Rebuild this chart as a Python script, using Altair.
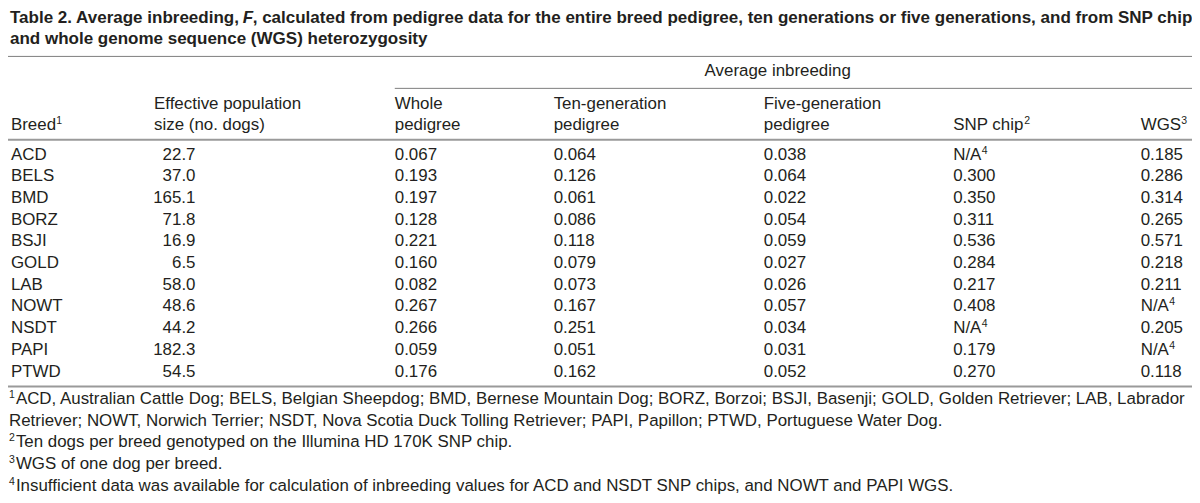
import altair as alt
import pandas as pd

# ---------------- data ----------------
breeds = ["ACD", "BELS", "BMD", "BORZ", "BSJI", "GOLD", "LAB", "NOWT", "NSDT", "PAPI", "PTWD"]
ne = [22.7, 37.0, 165.1, 71.8, 16.9, 6.5, 58.0, 48.6, 44.2, 182.3, 54.5]
whole = [0.067, 0.193, 0.197, 0.128, 0.221, 0.160, 0.082, 0.267, 0.266, 0.059, 0.176]
ten = [0.064, 0.126, 0.061, 0.086, 0.118, 0.079, 0.073, 0.167, 0.251, 0.051, 0.162]
five = [0.038, 0.064, 0.022, 0.054, 0.059, 0.027, 0.026, 0.057, 0.034, 0.031, 0.052]
snp = [None, 0.300, 0.350, 0.311, 0.536, 0.284, 0.217, 0.408, None, 0.179, 0.270]
wgs = [0.185, 0.286, 0.314, 0.265, 0.571, 0.218, 0.211, None, 0.205, None, 0.118]

title_a = "Table 2. Average inbreeding,"
title_f = "F"
title_b = ", calculated from pedigree data for the entire breed pedigree, ten generations or five generations, and from SNP chip"
title_2 = "and whole genome sequence (WGS) heterozygosity"
group_header = "Average inbreeding"
headers_l1 = ["", "Effective population", "Whole", "Ten-generation", "Five-generation", "", ""]
headers_l2 = ["Breed", "size (no. dogs)", "pedigree", "pedigree", "pedigree", "SNP chip", "WGS"]
header_sup = ["1", "", "", "", "", "2", "3"]
na_text = "N/A"
na_sup = "4"
foot_marks = ["1", "", "2", "3", "4"]
footnotes = [
    "ACD, Australian Cattle Dog; BELS, Belgian Sheepdog; BMD, Bernese Mountain Dog; BORZ, Borzoi; BSJI, Basenji; GOLD, Golden Retriever; LAB, Labrador",
    "Retriever; NOWT, Norwich Terrier; NSDT, Nova Scotia Duck Tolling Retriever; PAPI, Papillon; PTWD, Portuguese Water Dog.",
    "Ten dogs per breed genotyped on the Illumina HD 170K SNP chip.",
    "WGS of one dog per breed.",
    "Insufficient data was available for calculation of inbreeding values for ACD and NSDT SNP chips, and NOWT and PAPI WGS.",
]

# ---------------- layout (reference pixel space) ----------------
W, H = 1184, 487
col_x = [3, 148, 392, 553, 766, 958, 1148]
ne_right = 190
row0, row_step = 151.5, 22.4
head_y1, head_y2 = 99, 121
title_y1, title_y2 = 10, 32
group_x, group_y = 706, 65
foot0, foot_step = 404, 22.3
foot_x, foot_text_x = 1, 8
title_x, title_f_x, title_b_x = 2, 238, 248
# width (reference px) of the word that carries a superscript
sup_after = {"Breed": 46, "SNP chip": 72, "WGS": 41, "N/A": 29}
SUP_DY = -4

FONT = "Liberation Sans, Arial, Helvetica, sans-serif"
TFONT = "Liberation Sans Narrow, Arial Narrow, Liberation Sans, Arial, sans-serif"
INK = "#231f20"
BS = 16.9
SS = 10.5
TS = 17.0

xs = alt.Scale(domain=[0, 1200], range=[0, W], zero=False, nice=False)
ys = alt.Scale(domain=[0, 503], range=[0, H], zero=False, nice=False)


left_cells, right_cells, sup_cells = [], [], []
for i, b in enumerate(breeds):
    y = row0 + i * row_step
    left_cells.append({"x": col_x[0], "y": y, "t": b})
    right_cells.append({"x": ne_right, "y": y, "t": f"{ne[i]:.1f}"})
    for cx, series in zip(col_x[2:], [whole, ten, five, snp, wgs]):
        v = series[i]
        if v is None:
            left_cells.append({"x": cx, "y": y, "t": na_text})
            sup_cells.append({"x": cx + sup_after[na_text], "y": y, "t": na_sup})
        else:
            left_cells.append({"x": cx, "y": y, "t": f"{v:.3f}"})
for cx, h1, h2, s in zip(col_x, headers_l1, headers_l2, header_sup):
    if h1:
        left_cells.append({"x": cx, "y": head_y1, "t": h1})
    left_cells.append({"x": cx, "y": head_y2, "t": h2})
    if s:
        sup_cells.append({"x": cx + sup_after[h2], "y": head_y2, "t": s})
for k, (m, f) in enumerate(zip(foot_marks, footnotes)):
    y = foot0 + k * foot_step
    if m:
        sup_cells.append({"x": foot_x, "y": y, "t": m})
        left_cells.append({"x": foot_text_x, "y": y, "t": f})
    else:
        left_cells.append({"x": foot_x, "y": y, "t": f})
left_cells.append({"x": group_x, "y": group_y, "t": group_header})

title_cells = [
    {"x": title_x, "y": title_y1, "t": title_a},
    {"x": title_x, "y": title_y2, "t": title_2},
    {"x": title_b_x, "y": title_y1, "t": title_b},
]
italic_cells = [{"x": title_f_x, "y": title_y1, "t": title_f}]

rules = pd.DataFrame([
    {"x": 0, "x2": 1200, "y": 50, "w": 1, "c": "#7f7f7f"},
    {"x": 392, "x2": 1200, "y": 83, "w": 1, "c": "#7f7f7f"},
    {"x": 0, "x2": 1200, "y": 136, "w": 2, "c": "#9a9a9a"},
    {"x": 0, "x2": 1200, "y": 391, "w": 2, "c": "#9a9a9a"},
])


def text_layer(rows, align, size, font, weight="normal", style="normal", dy=0):
    return alt.Chart(pd.DataFrame(rows)).mark_text(
        align=align, baseline="middle", fontSize=size, font=font,
        fontWeight=weight, fontStyle=style, color=INK, dy=dy
    ).encode(
        x=alt.X("x:Q", scale=xs, axis=None),
        y=alt.Y("y:Q", scale=ys, axis=None),
        text="t:N",
    )


rule_layer = alt.Chart(rules).mark_rule().encode(
    x=alt.X("x:Q", scale=xs, axis=None),
    x2="x2:Q",
    y=alt.Y("y:Q", scale=ys, axis=None),
    strokeWidth=alt.StrokeWidth("w:Q", scale=None),
    color=alt.Color("c:N", scale=None),
)

chart = alt.layer(
    rule_layer,
    text_layer(left_cells, "left", BS, FONT),
    text_layer(right_cells, "right", BS, FONT),
    text_layer(sup_cells, "left", SS, FONT, dy=SUP_DY),
    text_layer(title_cells, "left", TS, TFONT, weight="bold"),
    text_layer(italic_cells, "left", TS, TFONT, weight="bold", style="italic"),
).properties(
    width=W, height=H, padding=0, autosize="none", background="white"
).configure_view(stroke=None)

chart.save("out.html", embed_options={"renderer": "svg", "actions": False})
